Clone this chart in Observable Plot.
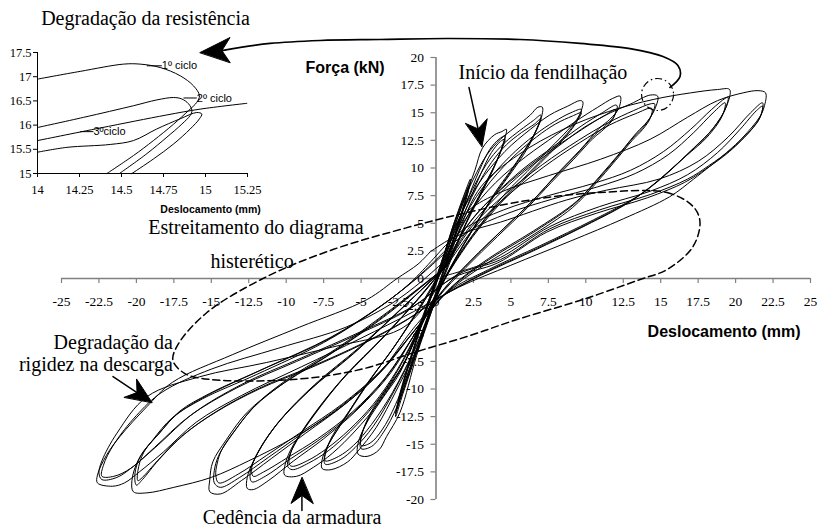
<!DOCTYPE html>
<html><head><meta charset="utf-8">
<script src="https://cdn.jsdelivr.net/npm/d3@7"></script>
<script src="https://cdn.jsdelivr.net/npm/@observablehq/plot@0.6"></script>
<style>
body{margin:0;background:#fff;}
#wrap{position:relative;width:819px;height:529px;overflow:hidden;background:#fff;}
#wrap svg{position:absolute;left:0;top:0;}
</style></head><body><div id="wrap"></div>
<script>
const SERIF = "'Liberation Serif','Times New Roman',serif";
const SANS = "'Liberation Sans',Arial,sans-serif";

// ---------- main chart axes ----------
const xTicks = [-25,-22.5,-20,-17.5,-15,-12.5,-10,-7.5,-5,-2.5,0,2.5,5,7.5,10,12.5,15,17.5,20,22.5,25];
const yTicks = [-20,-17.5,-15,-12.5,-10,-7.5,-5,-2.5,0,2.5,5,7.5,10,12.5,15,17.5,20];

// ---------- hysteresis cycles [deslocamento mm, força kN] ----------
const a1c1 = [[0,0],[0.6,2.5],[1.2,5],[1.8,7.3],[2.3,9.0],[2.1,7.6],[1.5,4.8],[0.8,1.8],[0.1,-1.2],[-0.7,-4.4],[-1.5,-7.6],[-2.2,-10.4],[-2.7,-12.5],[-2.5,-10.9],[-1.9,-8],[-1.2,-5],[-0.5,-2],[0.1,0.4]];
const a1c2 = [[0.1,0.4],[0.7,2.8],[1.3,5.2],[1.9,7.5],[2.3,8.7],[2.0,7.2],[1.4,4.5],[0.7,1.5],[0,-1.4],[-0.8,-4.7],[-1.6,-7.8],[-2.3,-10.5],[-2.7,-12.2],[-2.4,-10.5],[-1.8,-7.7],[-1.1,-4.7],[-0.4,-1.8],[0.2,0.6]];
const a1c3 = [[0.2,0.6],[0.8,3.0],[1.4,5.3],[1.9,7.2],[2.2,8.4],[1.9,6.9],[1.3,4.2],[0.6,1.2],[-0.1,-1.6],[-0.9,-4.9],[-1.7,-8.0],[-2.3,-10.3],[-2.6,-11.8],[-2.3,-10.1],[-1.7,-7.4],[-1.0,-4.4],[-0.3,-1.5],[0.2,0.6]];

const a2c1 = [[0.2,0.6],[0.9,3.5],[1.9,7.2],[2.6,9.8],[3.1,11.8],[3.9,13.0],[4.4,13.3],[4.7,13.5],[4.5,12.3],[4.1,10.8],[3.3,8.6],[2.4,6.2],[1.4,3],[0.5,0],[-0.3,-3],[-1.3,-7],[-2.4,-12.1],[-3.3,-14.3],[-3.8,-15.5],[-4.6,-16.1],[-5.2,-15.9],[-5.2,-14.9],[-4.6,-13],[-3.5,-10.7],[-2.4,-8.5],[-1.2,-4.5],[0.2,0.5]];
const a2c2 = [[0.2,0.5],[1.0,3.4],[2.0,6.8],[2.9,9.8],[3.6,11.7],[4.2,12.6],[4.6,12.9],[4.4,11.8],[3.9,10.2],[3.1,8.0],[2.2,5.6],[1.2,2.6],[0.4,-0.2],[-0.4,-3.2],[-1.5,-7.4],[-2.6,-11.6],[-3.5,-13.9],[-4.3,-15.2],[-5.0,-15.4],[-5.0,-14.3],[-4.4,-12.4],[-3.3,-10.1],[-2.2,-7.9],[-1.0,-4],[0.3,0.6]];
const a2c3 = [[0.3,0.6],[1.1,3.3],[2.1,6.6],[3.0,9.5],[3.7,11.4],[4.3,12.4],[4.6,12.6],[4.3,11.4],[3.8,9.8],[3.0,7.6],[2.1,5.2],[1.1,2.3],[0.3,-0.5],[-0.5,-3.4],[-1.6,-7.5],[-2.7,-11.4],[-3.6,-13.7],[-4.4,-14.9],[-5.0,-15.1],[-4.9,-13.9],[-4.3,-12],[-3.2,-9.8],[-2.1,-7.6],[-0.9,-3.8],[0.3,0.6]];

const a3c1 = [[0.3,0.6],[1.2,5],[2.5,9],[3.4,11.2],[4.3,12.6],[5.2,13.6],[6.3,14.8],[6.8,15.5],[7.1,15.5],[7.0,14.4],[6.5,12.9],[5.8,11.4],[4.9,9.6],[4.0,7.9],[2.8,5.2],[1.4,2],[0.2,-1.2],[-1.0,-5.5],[-2.6,-10],[-4.0,-13.5],[-5.2,-15.6],[-5.9,-16.6],[-7.0,-17.3],[-7.6,-17.2],[-7.6,-16.4],[-7.3,-15.3],[-6.2,-12.9],[-4.6,-9.5],[-2.9,-6.4],[-1.2,-2.8],[0.3,0.6]];
const a3c2 = [[0.3,0.6],[1.3,4.6],[2.6,8.5],[3.6,10.8],[4.6,12.3],[5.6,13.4],[6.5,14.3],[7.0,14.8],[6.8,13.8],[6.3,12.4],[5.6,10.9],[4.7,9.1],[3.8,7.4],[2.6,4.8],[1.2,1.6],[0,-1.6],[-1.2,-5.8],[-2.8,-10.2],[-4.2,-13.4],[-5.4,-15.3],[-6.4,-16.4],[-7.4,-16.8],[-7.4,-15.8],[-7.0,-14.6],[-5.9,-12.3],[-4.3,-9],[-2.7,-6],[-1.0,-2.5],[0.4,0.7]];
const a3c3 = [[0.4,0.7],[1.4,4.4],[2.7,8.2],[3.7,10.5],[4.7,12.1],[5.7,13.2],[6.6,14.0],[7.0,14.5],[6.7,13.4],[6.2,12.0],[5.5,10.5],[4.6,8.8],[3.7,7.1],[2.5,4.5],[1.1,1.3],[-0.1,-1.9],[-1.3,-6],[-2.9,-10.3],[-4.3,-13.2],[-5.5,-15.1],[-6.5,-16.1],[-7.4,-16.5],[-7.3,-15.5],[-6.9,-14.2],[-5.8,-12],[-4.2,-8.8],[-2.6,-5.8],[-0.9,-2.3],[0.4,0.7]];

const a4c1 = [[0.4,0.7],[1.4,5],[2.8,8.5],[4.6,11.5],[6.3,13.5],[7.6,14.8],[8.8,15.6],[9.6,16.1],[9.8,16.0],[9.7,15.2],[9.4,14.4],[8.5,13.0],[7.4,11.5],[6.1,9.7],[4.7,7.8],[3.2,5.3],[1.6,2.3],[0.3,-0.8],[-0.8,-3.8],[-2.2,-7.8],[-3.8,-11.2],[-5.4,-13.8],[-6.9,-15.8],[-8.2,-17.1],[-9.3,-17.9],[-10.1,-17.8],[-10.1,-17],[-9.7,-15.5],[-8.5,-13],[-6.5,-9.5],[-4,-6],[-1.5,-2.3],[0.4,0.8]];
const a4c2 = [[0.4,0.8],[1.6,4.8],[3.1,8.2],[4.9,11.0],[6.6,13.0],[7.9,14.2],[9.0,15.0],[9.7,15.3],[9.5,14.5],[9.1,13.7],[8.2,12.3],[7.1,10.8],[5.8,9.0],[4.4,7.1],[2.9,4.7],[1.4,1.8],[0.1,-1.2],[-1,-4.2],[-2.5,-8.2],[-4.1,-11.4],[-5.7,-13.8],[-7.2,-15.6],[-8.5,-16.7],[-9.6,-17.3],[-9.9,-17.0],[-9.8,-16.1],[-9.3,-14.7],[-8.1,-12.3],[-6.1,-8.9],[-3.7,-5.6],[-1.3,-2],[0.5,0.9]];
const a4c3 = [[0.5,0.9],[1.7,4.6],[3.2,8.0],[5.0,10.8],[6.7,12.8],[8.0,14.0],[9.1,14.7],[9.7,15.0],[9.4,14.2],[9.0,13.4],[8.1,12.0],[7.0,10.5],[5.7,8.7],[4.3,6.8],[2.8,4.4],[1.3,1.5],[0,-1.4],[-1.1,-4.4],[-2.6,-8.3],[-4.2,-11.4],[-5.8,-13.7],[-7.3,-15.4],[-8.6,-16.5],[-9.6,-17.0],[-9.8,-16.8],[-9.7,-15.8],[-9.2,-14.4],[-8.0,-12.0],[-6.0,-8.7],[-3.6,-5.4],[-1.2,-1.9],[0.5,0.9]];

const a5c1 = [[0.5,0.9],[1.8,5],[3.5,8],[5.5,10.5],[7.5,12.5],[9.3,14.2],[10.8,15.5],[11.8,16.3],[12.3,16.5],[12.2,15.4],[11.6,14.4],[10.9,13.6],[9.6,11.6],[8.1,9.5],[6.5,7.1],[4.5,4.5],[2.3,1.6],[0.4,-1.2],[-1.2,-4.5],[-3,-8.5],[-5.2,-11.8],[-7.5,-14.5],[-9.5,-16.5],[-11.2,-18.3],[-12.2,-19.1],[-12.6,-19.0],[-12.6,-18],[-12.1,-16.3],[-10.8,-13.5],[-8.5,-10.2],[-5.5,-6.8],[-2.5,-3],[0.5,0.9]];
const a5c2 = [[0.5,0.9],[2,4.6],[3.8,7.4],[5.8,9.9],[7.9,12.0],[9.7,13.8],[11.1,15.0],[12.0,15.7],[12.1,15.6],[11.9,14.7],[11.3,13.8],[10.6,13.0],[9.3,11.1],[7.8,9.0],[6.2,6.7],[4.2,4.1],[2.1,1.3],[0.2,-1.5],[-1.4,-5],[-3.3,-8.9],[-5.5,-12.1],[-7.8,-14.6],[-9.8,-16.4],[-11.4,-17.9],[-12.3,-18.4],[-12.4,-17.5],[-11.9,-15.8],[-10.5,-13],[-8.2,-9.8],[-5.2,-6.4],[-2.3,-2.7],[0.6,1]];
const a5c3 = [[0.6,1],[2.1,4.4],[3.9,7.2],[5.9,9.7],[8.0,11.8],[9.8,13.6],[11.2,14.7],[12.0,15.3],[11.8,14.4],[11.2,13.5],[10.5,12.7],[9.2,10.8],[7.7,8.7],[6.1,6.4],[4.1,3.8],[2.0,1.0],[0.1,-1.8],[-1.5,-5.2],[-3.4,-9],[-5.6,-12.1],[-7.9,-14.5],[-9.9,-16.2],[-11.5,-17.5],[-12.2,-17.9],[-12.3,-17.1],[-11.8,-15.5],[-10.4,-12.8],[-8.1,-9.6],[-5.1,-6.2],[-2.2,-2.6],[0.6,1]];

const a6c1 = [[0.6,1],[2.2,5],[4.3,8],[6.8,10.8],[9.2,13],[11.2,14.7],[13,15.8],[14.3,16.6],[14.8,16.5],[14.6,15.3],[14.1,14.2],[13.4,13.2],[12.3,11.4],[10.9,9.2],[9.4,7.0],[6.5,4.3],[3.5,1.8],[1,-0.8],[-1.3,-4.5],[-3.5,-8.2],[-6,-11.3],[-8.7,-14],[-11,-16.3],[-13,-18.3],[-14.4,-19.5],[-15.1,-19.3],[-15.1,-18.2],[-14.9,-16.6],[-14,-14.6],[-12.6,-12.1],[-10.5,-9.8],[-7,-6.8],[-3.5,-3.5],[0.6,1]];
const a6c2 = [[0.6,1],[2.4,4.7],[4.6,7.6],[7.1,10.3],[9.5,12.5],[11.5,14.1],[13.2,15.2],[14.3,15.8],[14.6,15.8],[14.4,14.8],[13.9,13.8],[13.2,12.8],[12.1,11.0],[10.7,8.8],[9.2,6.7],[6.3,4.0],[3.3,1.5],[0.8,-1.1],[-1.5,-4.8],[-3.7,-8.4],[-6.2,-11.4],[-8.9,-14],[-11.2,-16.2],[-13.1,-18],[-14.4,-18.9],[-14.8,-18.5],[-14.8,-17.4],[-14.5,-16],[-13.6,-14.1],[-12.2,-11.7],[-10.1,-9.4],[-6.7,-6.5],[-3.3,-3.2],[0.7,1.1]];
const a6c3 = [[0.7,1.1],[2.5,4.5],[4.7,7.4],[7.2,10.1],[9.6,12.3],[11.6,13.9],[13.3,14.9],[14.4,15.4],[14.3,14.5],[13.8,13.5],[13.1,12.5],[12.0,10.7],[10.6,8.5],[9.1,6.4],[6.2,3.7],[3.2,1.2],[0.7,-1.3],[-1.6,-5],[-3.8,-8.5],[-6.3,-11.4],[-9,-13.9],[-11.3,-16],[-13.2,-17.7],[-14.5,-18.5],[-14.7,-17.8],[-14.6,-16.7],[-14.3,-15.5],[-13.4,-13.7],[-12,-11.4],[-10,-9.2],[-6.6,-6.3],[-3.2,-3],[0.7,1.1]];

const a7c1 = [[0.7,1.1],[1.6,4.5],[3,8.3],[5.5,11.2],[8.5,13.5],[11.5,15.1],[14.5,16.2],[17,16.8],[18.8,17.1],[19.6,17.1],[19.4,15.6],[18.5,13.6],[17.2,11.8],[15,9],[13.4,7.4],[10.5,5.3],[7,3],[3.5,0.8],[0.8,-1.2],[-1.5,-4.5],[-3.8,-8.6],[-6.5,-11.8],[-9.5,-14.4],[-12.5,-16.5],[-15,-18],[-17.5,-18.9],[-19.3,-19.4],[-20.2,-19.3],[-20.3,-18.3],[-19.9,-16.5],[-18.9,-14.6],[-17.6,-12.6],[-15.6,-10.9],[-12,-8.7],[-7.5,-5.8],[-4.2,-3],[-1.8,-0.5],[0.5,2.8]];
const a7c2 = [[0.5,2.8],[2,4.6],[4.5,6.2],[7.5,7.5],[10.5,8.6],[13,9.8],[15.2,11.5],[17,13.5],[18.4,15.3],[19.3,16.3],[19.5,16.4],[19.2,15.0],[18.2,13.1],[16.9,11.4],[14.7,8.7],[13.1,7.1],[10.2,5.0],[6.7,2.7],[3.2,0.5],[0.5,-1.5],[-1.8,-3.6],[-4.8,-5.8],[-8.2,-7.9],[-11.6,-9.8],[-14.5,-11.9],[-16.8,-14.1],[-18.5,-16.4],[-19.6,-18.2],[-20.0,-18.7],[-20.1,-17.7],[-19.7,-16.0],[-18.6,-14.2],[-17.3,-12.3],[-15.3,-10.6],[-11.7,-8.3],[-7.2,-5.5],[-3.9,-2.7],[-1.5,-0.2],[0.6,2.5]];
const a7c3 = [[0.6,2.5],[2.2,4.3],[4.8,5.9],[7.8,7.2],[10.8,8.3],[13.3,9.5],[15.5,11.2],[17.2,13.2],[18.5,15.0],[19.3,15.9],[19.1,14.7],[18.1,12.8],[16.7,11.1],[14.5,8.5],[12.9,6.9],[10,4.8],[6.5,2.5],[3,0.3],[0.3,-1.7],[-2,-3.8],[-5,-6],[-8.4,-8.1],[-11.8,-10],[-14.7,-12.1],[-17,-14.3],[-18.6,-16.5],[-19.6,-18.0],[-19.9,-18.3],[-19.9,-17.4],[-19.5,-15.7],[-18.4,-13.9],[-17.1,-12.0],[-15.1,-10.4],[-11.4,-8.1],[-7,-5.3],[-3.7,-2.5],[-1.3,0],[0.6,2.3]];

const a8c1 = [[0.6,2.3],[1.2,4.6],[2.2,6.2],[4.3,7.8],[7.5,9.3],[11,10.8],[14.3,12.6],[16.8,14.6],[18.8,16.1],[20.5,16.8],[21.5,17.0],[22.0,16.8],[21.9,15.5],[21.6,14.6],[20.5,12.8],[19.4,11.4],[17.2,9],[15.6,7.4],[12.5,5.4],[9,3.4],[5,1.2],[1.5,-0.8],[-1.5,-3],[-5,-5.4],[-9,-8],[-13,-10.6],[-16,-13],[-18.2,-15.7],[-19.8,-17.5],[-20.8,-18.5],[-21.6,-18.8],[-22.6,-18.5],[-22.6,-17.8],[-22,-16],[-21.1,-14.3],[-19.3,-11.6],[-17.6,-9.4],[-13.6,-6.9],[-9.1,-4.4],[-4.6,-1.9],[-2.6,0],[-1.2,1.3],[-0.4,2.4]];
const a8c2 = [[-0.4,2.4],[1,3.6],[2.5,4.4],[4.3,5.1],[8.7,7.1],[11.4,8.0],[14.9,9],[17.5,10.6],[19.5,12.8],[21,15],[21.8,15.9],[21.7,14.8],[21.2,13.7],[19.8,11.8],[18.2,10.2],[16.8,9],[14.3,7.6],[10.9,6.2],[7.6,4.5],[4.3,1.7],[1.5,0.4],[-1.5,-2.5],[-5,-4.8],[-9,-7.2],[-13,-9.6],[-16.2,-12.2],[-18.5,-15],[-20.2,-17],[-21.3,-18],[-22.3,-18.2],[-22.5,-17.6],[-22.3,-16.5],[-21.3,-14],[-19.3,-10.7],[-15.8,-8.9],[-11.3,-7.6],[-6.9,-6.2],[-2.4,-4.6],[-0.8,-2.6],[0.5,0.2]];
const a8c3 = [[0.5,0.2],[2.5,1.0],[4.3,1.9],[7.6,4.7],[10.9,6.5],[14.3,7.9],[16.8,9.4],[18.8,11.4],[20.3,13.5],[21.4,15.2],[21.8,15.6],[21.6,14.5],[21.0,13.4],[19.6,11.5],[18.0,9.9],[16.6,8.7],[14.1,7.3],[10.7,5.9],[7.4,4.2],[4.1,1.4],[1.2,0.1],[-1.8,-2.8],[-5.3,-5.1],[-9.3,-7.5],[-13.3,-9.9],[-16.5,-12.5],[-18.8,-15.3],[-20.4,-17.2],[-21.5,-17.9],[-22.3,-17.9],[-22.2,-16.9],[-21.5,-15],[-20,-12.4],[-18.3,-10.3],[-15,-8.2],[-10.5,-6.3],[-6,-4.4],[-3,-2.3],[-1,-0.3],[0.5,1.5]];

// ---------- annotations (data coordinates) ----------
const narrowingOutline = [[10.95,7.78],[15.42,7.78],[17.16,6.52],[17.62,5.16],[17.16,2.90],[15.42,0.81],[13.62,-0.09],[9.81,-1.90],[5.41,-3.71],[2.07,-5.25],[-1.27,-6.61],[-5.07,-8.24],[-9.55,-9.14],[-15.09,-9.14],[-16.76,-8.60],[-17.56,-7.42],[-17.22,-5.97],[-15.29,-3.08],[-11.28,0.18],[-6.88,2.62],[-2.40,4.43],[2.07,5.97],[6.48,7.15]];
const bigArrowPath = [[15.62,17.29],[16.29,18.28],[16.15,19.28],[15.15,20.09],[12.95,20.81],[9.61,21.27],[5.61,21.63],[0.73,21.72],[-3.74,21.63],[-7.74,21.54],[-11.08,21.27],[-14.29,20.63]];
const arrowShafts = [
  {id:"fend", pts:[[2.20,17.29],[2.81,13.54]]},
  {id:"rig", pts:[[-21.56,-8.87],[-19.96,-10.32]]},
  {id:"ced", pts:[[-8.95,-21.0],[-8.95,-19.64]]}
];
const arrowHeads = [
  {id:"fend", pts:[[3.07,11.95],[3.42,14.46],[2.81,13.54],[1.98,14.03]]},
  {id:"rig", pts:[[-18.96,-11.22],[-19.99,-9.09],[-19.96,-10.32],[-20.81,-10.75]]},
  {id:"ced", pts:[[-8.95,-18.01],[-9.68,-20.36],[-8.95,-19.64],[-8.21,-20.36]]},
  {id:"big", pts:[[-15.75,20.45],[-13.75,21.81],[-14.29,20.63],[-13.75,19.55]]}
];
const circledPeak = [[14.79,16.65]];
const notesCentered = [
  {x:7.14, y:18.64, t:"Início da fendilhação"},
  {x:-12.02, y:4.62, t:"Estreitamento do diagrama"},
  {x:-12.28, y:1.54, t:"histerético"},
  {x:-9.61, y:-21.63, t:"Cedência da armadura"}
];
const notesRight = [
  {x:-17.56, y:-5.79, t:"Degradação da"},
  {x:-17.56, y:-7.78, t:"rigidez na descarga"}
];
const axisTitles = [
  {x:-6.07, y:19.1, t:"Força (kN)"},
  {x:19.23, y:-4.80, t:"Deslocamento (mm)"}
];

// ---------- inset (zoom on 15 mm peak) ----------
const insetXTicks = [14,14.25,14.5,14.75,15,15.25];
const insetYTicks = [15,15.5,16,16.5,17,17.5];
const insetC1 = [[14.000,16.95],[14.254,17.11],[14.512,17.26],[14.611,17.26],[14.730,17.19],[14.849,17.02],[14.929,16.81],[14.964,16.61],[14.948,16.47],[14.899,16.30],[14.810,16.02],[14.690,15.68],[14.571,15.37],[14.413,15.00]];
const insetC2 = [[14.000,15.95],[14.274,16.16],[14.571,16.40],[14.710,16.52],[14.810,16.57],[14.859,16.54],[14.899,16.44],[14.919,16.30],[14.909,16.20],[14.859,16.02],[14.770,15.75],[14.651,15.41],[14.488,15.00]];
const insetC3 = [[14.000,15.44],[14.175,15.54],[14.433,15.60],[14.571,15.68],[14.710,15.92],[14.849,16.13],[14.948,16.26],[14.978,16.23],[14.964,16.13],[14.909,15.92],[14.810,15.61],[14.690,15.30],[14.562,15.00]];
const insetNext = [[14.000,15.68],[14.373,15.94],[14.770,16.21],[14.968,16.33],[15.246,16.45]];
const insetLabels = [
  {x1:14.651, x2:14.740, y:17.225, t:"1º ciclo"},
  {x1:14.869, x2:14.948, y:16.56, t:"2º ciclo"},
  {x1:14.254, x2:14.333, y:15.865, t:"3ºciclo"}
];

// ---------- build tables ----------
const cycles = {a1c1,a1c2,a1c3,a2c1,a2c2,a2c3,a3c1,a3c2,a3c3,a4c1,a4c2,a4c3,a5c1,a5c2,a5c3,a6c1,a6c2,a6c3,a7c1,a7c2,a7c3,a8c1,a8c2,a8c3};
const loopRows = [];
for (const [id, pts] of Object.entries(cycles)) for (const [x,y] of pts) loopRows.push({id, x, y});
const shaftRows = arrowShafts.flatMap(s => s.pts.map(([x,y]) => ({id:s.id, x, y})));
const headRows = arrowHeads.flatMap(s => s.pts.map(([x,y]) => ({id:s.id, x, y})));
const insetCycles = {insetC1, insetC2, insetC3, insetNext};
const insetRows = [];
for (const [id, pts] of Object.entries(insetCycles)) for (const [x,y] of pts) insetRows.push({id, x, y});

const main = Plot.plot({
  width: 819, height: 529,
  marginLeft: 61, marginRight: 9, marginTop: 57, marginBottom: 30,
  x: {domain: [-25, 25], axis: null},
  y: {domain: [-20, 20], axis: null},
  style: {background: "white", overflow: "visible"},
  marks: [
    Plot.ruleY([0], {x1: -25, x2: 25, stroke: "#808080", strokeWidth: 1.6}),
    Plot.ruleX([0], {y1: -20, y2: 20, stroke: "#808080", strokeWidth: 1.6}),
    Plot.ruleX(xTicks, {x: d => d, y1: 0, y2: 0, insetBottom: -5, stroke: "#808080", strokeWidth: 1.2}),
    Plot.ruleY(yTicks, {y: d => d, x1: 0, x2: 0, insetLeft: -5, stroke: "#808080", strokeWidth: 1.2}),
    Plot.text(xTicks, {x: d => d, y: 0, dy: 23, text: d => String(d), fontSize: 13.5, fontFamily: SERIF, fill: "black"}),
    Plot.text(yTicks, {x: 0, y: d => d, dx: -12, textAnchor: "end", text: d => String(d), fontSize: 13.5, fontFamily: SERIF, fill: "black"}),
    Plot.line(loopRows, {x: "x", y: "y", z: "id", curve: "catmull-rom", stroke: "black", strokeWidth: 1}),
    Plot.line(narrowingOutline, {x: d => d[0], y: d => d[1], curve: "catmull-rom-closed", stroke: "black", strokeWidth: 1.5, strokeDasharray: "7,4"}),
    Plot.dot(circledPeak, {x: d => d[0], y: d => d[1], r: 16, stroke: "black", strokeWidth: 1.2, strokeDasharray: "7,3,1.5,3", fill: "none"}),
    Plot.line(bigArrowPath, {x: d => d[0], y: d => d[1], curve: "catmull-rom", stroke: "black", strokeWidth: 1.7}),
    Plot.line(shaftRows, {x: "x", y: "y", z: "id", stroke: "black", strokeWidth: 1.5}),
    Plot.line(headRows, {x: "x", y: "y", z: "id", curve: "linear-closed", fill: "black", stroke: "black", strokeWidth: 1}),
    Plot.text(notesCentered, {x: "x", y: "y", text: "t", textAnchor: "middle", fontSize: 20, fontFamily: SERIF, fill: "black"}),
    Plot.text(notesRight, {x: "x", y: "y", text: "t", textAnchor: "end", fontSize: 20, fontFamily: SERIF, fill: "black"}),
    Plot.text(axisTitles, {x: "x", y: "y", text: "t", fontSize: 16, fontWeight: "bold", fontFamily: SANS, fill: "black"})
  ]
});

const inset = Plot.plot({
  width: 300, height: 215,
  marginLeft: 37, marginRight: 53, marginTop: 52, marginBottom: 42,
  x: {domain: [14, 15.25], axis: null},
  y: {domain: [15, 17.5], axis: null},
  style: {background: "transparent", overflow: "visible"},
  marks: [
    Plot.ruleY([15], {x1: 14, x2: 15.25, stroke: "black", strokeWidth: 1}),
    Plot.ruleX([14], {y1: 15, y2: 17.5, stroke: "black", strokeWidth: 1}),
    Plot.ruleX(insetXTicks, {x: d => d, y1: 15, y2: 15, insetBottom: -4, stroke: "black"}),
    Plot.ruleY(insetYTicks, {y: d => d, x1: 14, x2: 14, insetLeft: -4, stroke: "black"}),
    Plot.text(insetXTicks, {x: d => d, y: 15, dy: 16, text: d => String(d), fontSize: 12.5, fontFamily: SERIF, fill: "black"}),
    Plot.text(insetYTicks, {x: 14, y: d => d, dx: -6, textAnchor: "end", text: d => String(d), fontSize: 12.5, fontFamily: SERIF, fill: "black"}),
    Plot.line(insetRows, {x: "x", y: "y", z: "id", curve: "catmull-rom", stroke: "black", strokeWidth: 1}),
    Plot.link(insetLabels, {x1: "x1", x2: "x2", y1: "y", y2: "y", stroke: "black", strokeWidth: 1}),
    Plot.text(insetLabels, {x: "x2", y: "y", text: "t", textAnchor: "start", fontSize: 11, fontFamily: SANS, fill: "black"}),
    Plot.text(["Degradação da resistência"], {x: 14.643, y: 18.2, text: d => d, fontSize: 20, fontFamily: SERIF, fill: "black"}),
    Plot.text(["Deslocamento (mm)"], {x: 15.03, y: 14.256, text: d => d, fontSize: 10.5, fontWeight: "bold", fontFamily: SANS, fill: "black"})
  ]
});

const wrap = document.getElementById("wrap");
wrap.appendChild(main);
wrap.appendChild(inset);
</script>
</body></html>
